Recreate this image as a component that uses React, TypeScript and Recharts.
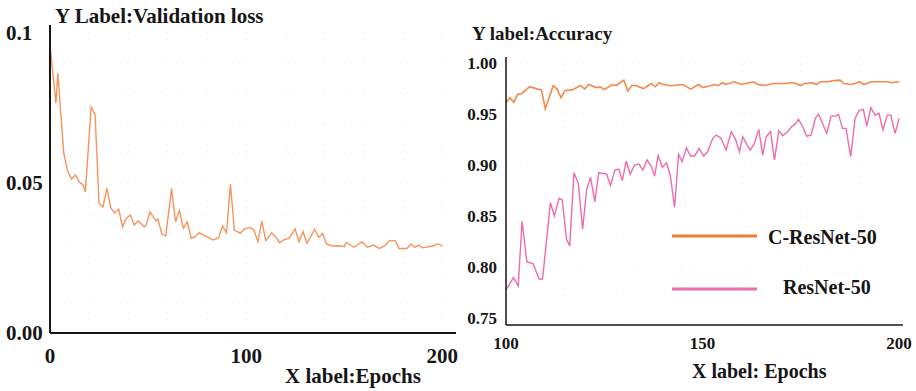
import { LineChart, Line, XAxis, YAxis, CartesianGrid } from 'recharts';

// validation loss (left panel)
const lossEpochs = [
  0, 3, 4, 7, 9, 11, 13, 15, 17, 18, 21, 23, 25, 27, 29, 31, 33, 35, 37, 39, 41, 43, 45, 48, 49,
  51, 54, 55, 57, 59, 62, 64, 66, 68, 70, 72, 74, 76, 79, 81, 83, 86, 88, 90, 92, 94, 97, 99,
  102, 104, 106, 108, 110, 113, 115, 117, 119, 122, 125, 127, 129, 131, 135, 137, 139, 141, 144,
  148, 150, 151, 155, 159, 162, 165, 168, 171, 173, 176, 178, 182, 184, 186, 188, 190, 195, 198, 200,
];
const lossValues = [
  0.096, 0.0767, 0.0866, 0.06, 0.054, 0.0513, 0.0527, 0.0503, 0.0493, 0.047, 0.0754, 0.0727, 0.0433,
  0.042, 0.0483, 0.0417, 0.04, 0.0413, 0.0354, 0.0383, 0.0393, 0.036, 0.0374, 0.0354, 0.036,
  0.0404, 0.0374, 0.038, 0.033, 0.0324, 0.0482, 0.0371, 0.0408, 0.0349, 0.0371, 0.0316, 0.0321,
  0.0334, 0.0324, 0.0318, 0.031, 0.0318, 0.0357, 0.0334, 0.0497, 0.0343, 0.0332, 0.0347,
  0.0352, 0.0343, 0.0304, 0.0374, 0.0308, 0.0334, 0.0321, 0.0301, 0.031, 0.0316, 0.0347, 0.0304,
  0.0338, 0.0299, 0.0346, 0.0319, 0.0332, 0.0297, 0.029, 0.0291, 0.0288, 0.0302, 0.0286, 0.0304,
  0.0286, 0.0293, 0.0282, 0.0293, 0.0308, 0.0308, 0.0282, 0.0282, 0.0297, 0.0286, 0.0293, 0.0284,
  0.029, 0.0297, 0.029,
];

// accuracy, C-ResNet-50 (right panel)
const cResEpochs = [
  100, 101, 102, 103, 104, 106, 108, 109, 110, 112, 113, 114, 115, 117, 118, 119, 120, 121, 123,
  124, 125, 127, 128, 130, 131, 132, 133, 135, 137, 138, 139, 140, 142, 145, 147, 149, 150, 152,
  153, 154, 155, 156, 158, 160, 163, 164, 166, 168, 171, 173, 175, 176, 178, 179, 180, 182, 183,
  185, 186, 188, 190, 191, 193, 197, 198, 200,
];
const cResValues = [
  0.961, 0.966, 0.9615, 0.9696, 0.97, 0.9768, 0.9745, 0.974, 0.955, 0.9778, 0.9745, 0.966, 0.973,
  0.974, 0.976, 0.978, 0.9745, 0.979, 0.976, 0.9768, 0.974, 0.979, 0.978, 0.9833, 0.9725, 0.978,
  0.978, 0.975, 0.98, 0.9768, 0.9807, 0.979, 0.9778, 0.979, 0.9745, 0.979, 0.976, 0.9778, 0.979,
  0.978, 0.9807, 0.979, 0.9817, 0.979, 0.9817, 0.979, 0.978, 0.98, 0.98, 0.981, 0.978, 0.98,
  0.9807, 0.979, 0.9817, 0.9817, 0.9827, 0.9833, 0.98, 0.979, 0.9817, 0.979, 0.9817, 0.9817,
  0.9807, 0.9817,
];

// accuracy, ResNet-50 (right panel)
const resEpochs = [
  100, 101.9, 103.1, 104.1, 105.3, 106.9, 108.4, 109.3, 111.3, 112.3, 113.5, 114.3, 115.4, 116.2,
  117.3, 118.4, 119.5, 120.5, 121.5, 122.6, 123.6, 125.6, 126.6, 127.7, 128.7, 129.6, 130.6,
  131.6, 132.7, 133.8, 134.8, 135.9, 137, 137.8, 138.7, 139.8, 140.8, 141.8, 142.9, 143.9, 144.8,
  145.9, 146.9, 148, 149.1, 150.3, 151.3, 152.6, 153.5, 154.7, 156, 157.3, 158.4, 159.4, 160.2,
  162.1, 163.2, 164.3, 165.3, 166.2, 167.3, 168.3, 169.4, 170.4, 171.6, 172.8, 173.8, 174.4,
  175.5, 176.5, 177.6, 178.7, 179.5, 180.5, 181.6, 182.7, 183.9, 184.6, 185.6, 186.5, 187.7,
  188.8, 189.8, 190.9, 191.8, 192.8, 193.9, 194.9, 195.9, 197, 197.9, 199, 200,
];
const resValues = [
  0.7775, 0.7895, 0.7814, 0.8451, 0.8052, 0.803, 0.7882, 0.7882, 0.863, 0.85, 0.8673, 0.8657,
  0.8271, 0.8206, 0.8925, 0.882, 0.837, 0.8755, 0.888, 0.864, 0.8925, 0.891, 0.88, 0.895, 0.896,
  0.8846, 0.904, 0.891, 0.9, 0.901, 0.895, 0.905, 0.8984, 0.8892, 0.9091, 0.8977, 0.9023, 0.89,
  0.8585, 0.9105, 0.9033, 0.917, 0.9088, 0.9088, 0.9163, 0.9088, 0.913, 0.9262, 0.9294, 0.9262,
  0.9147, 0.9327, 0.9252, 0.913, 0.9278, 0.9147, 0.9212, 0.935, 0.9098, 0.9278, 0.9327, 0.9049,
  0.9337, 0.9288, 0.9327, 0.9382, 0.9409, 0.9448, 0.9376, 0.9284, 0.9294, 0.9458, 0.95, 0.9409,
  0.931, 0.948, 0.948, 0.9497, 0.936, 0.936, 0.9082, 0.9458, 0.9533, 0.9546, 0.9382, 0.9562,
  0.949, 0.9507, 0.9343, 0.949, 0.949, 0.931, 0.9458,
];

const lossTicks = [0, 0.05, 0.1];
const lossEpochTicks = [0, 100, 200];
const accTicks = [0.75, 0.8, 0.85, 0.9, 0.95, 1.0];
const accEpochTicks = [100, 150, 200];

const lossGridY = [0.01, 0.02, 0.03, 0.04, 0.05, 0.06, 0.07, 0.08, 0.09];
const lossGridX = [20, 40, 60, 80, 100, 120, 140, 160, 180, 200];
const accGridY = [0.8, 0.85, 0.9, 0.95, 1.0];
const accGridX = [115, 130, 145, 160, 175, 190];

const FONT = '"Liberation Serif", "Times New Roman", serif';
const INK = '#161616';

const lossData = lossEpochs.map((epoch, i) => ({ epoch, loss: lossValues[i] }));
const cResData = cResEpochs.map((epoch, i) => ({ epoch, acc: cResValues[i] }));
const resData = resEpochs.map((epoch, i) => ({ epoch, acc: resValues[i] }));

// loss ticks sit flush-left in the original, so anchor them at the start
function LossYTick({ y, payload }: any) {
  const v = payload.value as number;
  return (
    <text x={6} y={y} dy={7} textAnchor="start" fontFamily={FONT} fontSize={21} fontWeight={700} fill={INK}>
      {v === 0.1 ? '0.1' : v.toFixed(2)}
    </text>
  );
}

function LossChart() {
  const tick = { fontFamily: FONT, fontSize: 21, fontWeight: 700, fill: INK };
  return (
    <LineChart width={470} height={391} data={lossData} margin={{ top: 25, right: 14, bottom: 28, left: 0 }}>
      <CartesianGrid
        stroke="#ececec"
        strokeDasharray="1 6"
        horizontalValues={lossGridY}
        verticalValues={lossGridX}
      />
      <XAxis
        type="number"
        dataKey="epoch"
        domain={[0, 207]}
        ticks={lossEpochTicks}
        height={30}
        tickSize={0}
        tickMargin={15}
        axisLine={{ stroke: INK, strokeWidth: 2 }}
        tick={tick}
      />
      <YAxis
        type="number"
        domain={[0, 0.1027]}
        ticks={lossTicks}
        allowDataOverflow
        width={50}
        tickSize={0}
        axisLine={{ stroke: INK, strokeWidth: 2 }}
        tick={<LossYTick />}
      />
      <Line dataKey="loss" stroke="#f7935d" strokeWidth={1.4} dot={false} isAnimationActive={false} />
    </LineChart>
  );
}

function AccuracyChart() {
  const tick = { fontFamily: FONT, fontSize: 17, fontWeight: 700, fill: INK };
  return (
    <LineChart width={456} height={391} margin={{ top: 57, right: 13, bottom: 36, left: 0 }}>
      <CartesianGrid
        stroke="#ededed"
        strokeDasharray="1 6"
        horizontalValues={accGridY}
        verticalValues={accGridX}
      />
      <XAxis
        type="number"
        dataKey="epoch"
        domain={[100, 201]}
        ticks={accEpochTicks}
        allowDuplicatedCategory={false}
        height={30}
        tickSize={0}
        tickMargin={12}
        axisLine={{ stroke: INK, strokeWidth: 1.5 }}
        tick={tick}
      />
      <YAxis
        type="number"
        domain={[0.743, 1.006]}
        ticks={accTicks}
        allowDataOverflow
        width={46}
        tickSize={0}
        tickMargin={9}
        axisLine={{ stroke: INK, strokeWidth: 1.5 }}
        tick={tick}
        tickFormatter={(v: number) => v.toFixed(2)}
      />
      <Line data={cResData} dataKey="acc" stroke="#f5884a" strokeWidth={1.6} dot={false} isAnimationActive={false} />
      <Line data={resData} dataKey="acc" stroke="#f06bab" strokeWidth={1.4} dot={false} isAnimationActive={false} />
    </LineChart>
  );
}

export default function App() {
  const title = { fontFamily: FONT, fontWeight: 700, fill: INK };
  return (
    <div style={{ position: 'absolute', left: 0, top: 0, width: 916, height: 391, background: '#fff' }}>
      <div style={{ position: 'absolute', left: 0, top: 0 }}>
        <LossChart />
      </div>
      <div style={{ position: 'absolute', left: 460, top: 0 }}>
        <AccuracyChart />
      </div>
      <svg width={916} height={391} style={{ position: 'absolute', left: 0, top: 0, pointerEvents: 'none' }}>
        <text x={55} y={23} fontSize={21} {...title}>Y Label:Validation loss</text>
        <text x={285} y={383} fontSize={21} {...title}>X label:Epochs</text>
        <text x={472} y={40} fontSize={19} {...title}>Y label:Accuracy</text>
        <text x={692} y={378} fontSize={20} {...title}>X label: Epochs</text>
        <line x1={672} y1={236} x2={757} y2={236} stroke="#ef7d2d" strokeWidth={3} />
        <text x={768} y={244} fontSize={20} {...title}>C-ResNet-50</text>
        <line x1={672} y1={289} x2={757} y2={289} stroke="#e56fae" strokeWidth={3} />
        <text x={783} y={294} fontSize={20} {...title}>ResNet-50</text>
      </svg>
    </div>
  );
}
